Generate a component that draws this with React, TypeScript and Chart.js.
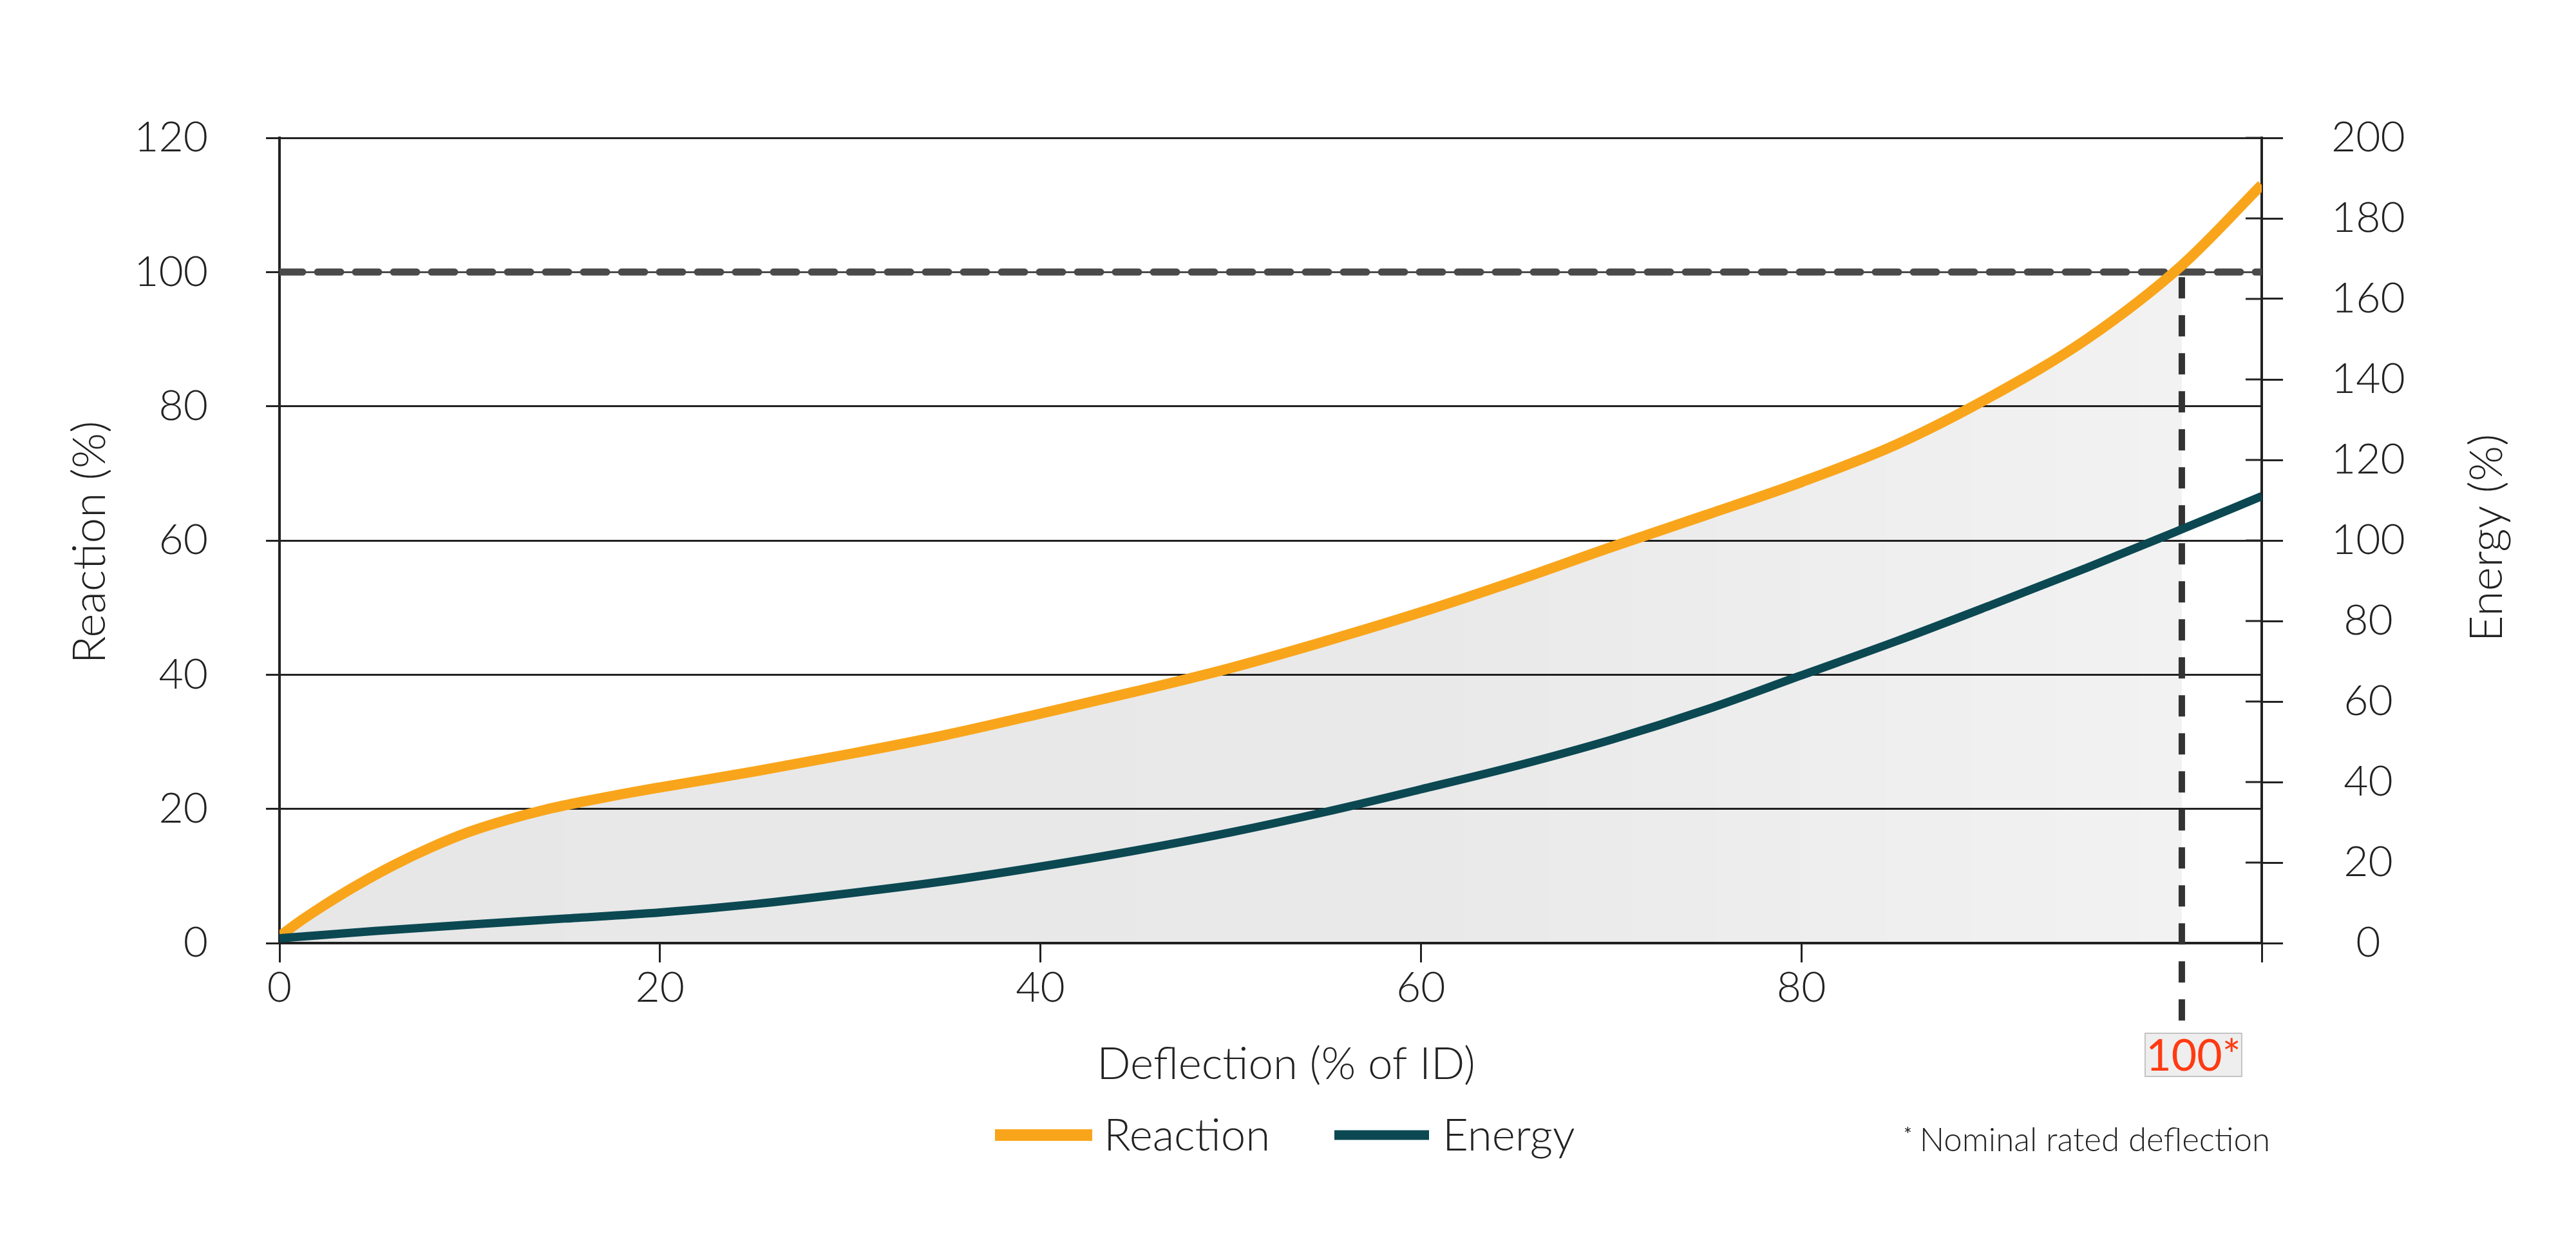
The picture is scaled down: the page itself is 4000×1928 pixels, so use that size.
import React, { useEffect, useRef } from 'react';
import { Chart, registerables } from 'chart.js';

Chart.register(...registerables);

// ---- data ----
const reactionDeflection = [0, 1, 2, 3, 4, 6, 8, 10, 12, 14, 16, 18, 20, 25, 30, 35, 40, 45, 50, 55, 60, 65, 70, 75, 80, 85, 90, 95, 100, 104.2];
const reactionValues = [1, 3.1, 5.0, 6.8, 8.5, 11.6, 14.3, 16.6, 18.4, 19.9, 21.1, 22.2, 23.2, 25.6, 28.2, 31, 34.2, 37.5, 41, 45, 49.3, 54, 59, 63.8, 68.7, 74.3, 81.5, 90, 101, 113];

const energyDeflection = [0, 5, 10, 15, 20, 25, 30, 35, 40, 45, 50, 55, 60, 65, 70, 75, 80, 85, 90, 95, 100, 104.2];
const energyValues = [1.2, 3, 4.6, 6.1, 7.6, 9.7, 12.4, 15.4, 19, 23, 27.5, 32.6, 38.2, 44, 50.5, 58, 66.5, 75, 84, 93.2, 102.8, 111];

const xTicks = [0, 20, 40, 60, 80];
const reactionTicks = [0, 20, 40, 60, 80, 100, 120];
const energyTicks = [0, 20, 40, 60, 80, 100, 120, 140, 160, 180, 200];

const xMax = 104.2;
const nominalDeflection = 100;
const nominalReaction = 100;
const nominalLabel = '100*';

const seriesNames = ['Reaction', 'Energy'];
const seriesColors = ['#F9A51B', '#0B4852'];
const xTitle = 'Deflection (% of ID)';
const yTitle = 'Reaction (%)';
const y2Title = 'Energy (%)';
const footnote = 'Nominal rated deflection';

const FONT = "Lato, 'Open Sans', sans-serif";
const INK = '#222222';

export default function App() {
  const ref = useRef<HTMLCanvasElement | null>(null);

  useEffect(() => {
    const canvas = ref.current;
    if (!canvas) return;

    const reactionPts = reactionDeflection.map((x, i) => ({ x, y: reactionValues[i] }));
    const fillPts = reactionPts.filter((p) => p.x <= nominalDeflection);
    const energyPts = energyDeflection.map((x, i) => ({ x, y: energyValues[i] }));
    const refPts = [
      { x: 0, y: nominalReaction },
      { x: xMax, y: nominalReaction },
    ];

    const decor = {
      id: 'decor',
      beforeDatasetDraw(chart: any, args: any) {
        if (args.index !== 3) return;
        const { ctx, scales } = chart;
        const x = scales.x.getPixelForValue(nominalDeflection);
        const yTop = scales.y.getPixelForValue(nominalReaction) + 8;
        const yBot = scales.y.getPixelForValue(0) + 128;
        ctx.save();
        ctx.strokeStyle = '#333333';
        ctx.lineWidth = 10;
        ctx.setLineDash([33, 26]);
        ctx.beginPath();
        ctx.moveTo(x, yTop);
        ctx.lineTo(x, yBot);
        ctx.stroke();
        ctx.restore();
      },
      afterDraw(chart: any) {
        const { ctx, scales, chartArea } = chart;
        ctx.save();
        // inner tick stubs of the right axis
        const ax = scales.y2.left;
        ctx.strokeStyle = INK;
        ctx.lineWidth = 3;
        energyTicks.forEach((v) => {
          const y = Math.round(scales.y2.getPixelForValue(v));
          ctx.beginPath();
          ctx.moveTo(ax - 25, y);
          ctx.lineTo(ax, y);
          ctx.stroke();
        });

        // nominal label box
        const nx = scales.x.getPixelForValue(nominalDeflection);
        const bTop = scales.y.getPixelForValue(0) + 140;
        const bw = 150;
        const bh = 67;
        const bx = nx - 57;
        ctx.fillStyle = '#eeeeee';
        ctx.fillRect(bx, bTop, bw, bh);
        ctx.strokeStyle = '#c4c4c4';
        ctx.lineWidth = 2;
        ctx.strokeRect(bx, bTop, bw, bh);
        ctx.fillStyle = '#FF3A12';
        ctx.font = `400 68px ${FONT}`;
        ctx.textAlign = 'center';
        ctx.textBaseline = 'middle';
        ctx.fillText(nominalLabel, bx + bw / 2, bTop + bh / 2 + 3);

        // axis titles
        ctx.fillStyle = INK;
        ctx.font = `300 71px ${FONT}`;
        const cy = (chartArea.top + chartArea.bottom) / 2;
        ctx.save();
        ctx.translate(140, cy + 3);
        ctx.rotate(-Math.PI / 2);
        ctx.fillText(yTitle, 0, 0);
        ctx.restore();
        ctx.save();
        ctx.translate(3862, cy - 4);
        ctx.rotate(-Math.PI / 2);
        ctx.fillText(y2Title, 0, 0);
        ctx.restore();
        ctx.font = `300 69px ${FONT}`;
        const cx = (chartArea.left + chartArea.right) / 2 + 24;
        ctx.fillText(xTitle, cx, 1653);

        // legend
        const legendY = 1762;
        const items = [
          { x0: 1545, x1: 1696, tx: 1714, w: 18 },
          { x0: 2072, x1: 2219, tx: 2240, w: 15 },
        ];
        items.forEach((it, i) => {
          ctx.strokeStyle = seriesColors[i];
          ctx.lineWidth = it.w;
          ctx.beginPath();
          ctx.moveTo(it.x0, legendY);
          ctx.lineTo(it.x1, legendY);
          ctx.stroke();
          ctx.fillStyle = INK;
          ctx.textAlign = 'left';
          ctx.textBaseline = 'middle';
          ctx.font = `300 69px ${FONT}`;
          ctx.fillText(seriesNames[i], it.tx, legendY + 2);
        });

        // footnote
        ctx.textAlign = 'right';
        ctx.textBaseline = 'alphabetic';
        ctx.font = `300 51px ${FONT}`;
        ctx.fillText(footnote, chartArea.right + 13, 1787);
        const fw = ctx.measureText(footnote).width;
        ctx.font = `400 30px ${FONT}`;
        ctx.fillText('*', chartArea.right + 13 - fw - 12, 1772);
        ctx.restore();
      },
    };

    const chart = new Chart(canvas, {
      type: 'line',
      data: {
        datasets: [
          {
            label: seriesNames[1],
            data: energyPts,
            yAxisID: 'y2',
            borderColor: seriesColors[1],
            borderWidth: 13,
            pointRadius: 0,
            cubicInterpolationMode: 'monotone',
            fill: false,
            order: 0,
          },
          {
            label: seriesNames[0],
            data: reactionPts,
            yAxisID: 'y',
            borderColor: seriesColors[0],
            borderWidth: 16,
            pointRadius: 0,
            cubicInterpolationMode: 'monotone',
            fill: false,
            order: 1,
          },
          {
            label: 'nominal-dash',
            data: refPts,
            yAxisID: 'y',
            borderColor: '#4a4a4a',
            borderWidth: 11,
            borderDash: [36, 23],
            borderCapStyle: 'round',
            pointRadius: 0,
            fill: false,
            order: 3,
          },
          {
            label: 'nominal-thin',
            data: refPts,
            yAxisID: 'y',
            borderColor: '#555555',
            borderWidth: 2.5,
            pointRadius: 0,
            fill: false,
            order: 4,
          },
          {
            label: 'area',
            data: fillPts,
            yAxisID: 'y',
            borderWidth: 0,
            borderColor: 'rgba(0,0,0,0)',
            pointRadius: 0,
            cubicInterpolationMode: 'monotone',
            fill: 'origin',
            backgroundColor: (c: any) => {
              const ch = c.chart;
              const area = ch.chartArea;
              if (!area) return 'rgba(0,0,0,0.08)';
              const xe = ch.scales.x.getPixelForValue(nominalDeflection);
              const g = ch.ctx.createLinearGradient(area.left, 0, xe, 0);
              g.addColorStop(0, 'rgba(0,0,0,0.095)');
              g.addColorStop(0.6, 'rgba(0,0,0,0.085)');
              g.addColorStop(1, 'rgba(0,0,0,0.05)');
              return g;
            },
            order: 10,
          },
        ],
      },
      options: {
        animation: false,
        responsive: false,
        devicePixelRatio: 1,
        events: [],
        layout: { padding: { top: 214, left: 0, right: 0, bottom: 0 } },
        plugins: {
          legend: { display: false },
          tooltip: { enabled: false },
          title: { display: false },
        },
        scales: {
          x: {
            type: 'linear',
            min: 0,
            max: xMax,
            afterBuildTicks: (s: any) => {
              s.ticks = [...xTicks, xMax].map((v) => ({ value: v }));
            },
            afterFit: (s: any) => {
              s.height = 464;
            },
            ticks: {
              autoSkip: false,
              maxRotation: 0,
              padding: 0,
              color: INK,
              font: { family: FONT, size: 66, weight: '300' as any },
              callback: (v: any) => (xTicks.includes(Number(v)) ? String(v) : ''),
            },
            grid: { drawOnChartArea: false, drawTicks: true, tickLength: 30, color: INK, lineWidth: 3 },
            border: { display: true, color: INK, width: 4 },
          },
          y: {
            type: 'linear',
            position: 'left',
            min: 0,
            max: 120,
            afterBuildTicks: (s: any) => {
              s.ticks = reactionTicks.map((v) => ({ value: v }));
            },
            afterFit: (s: any) => {
              s.width = 434;
            },
            ticks: {
              padding: 90,
              crossAlign: 'near',
              color: INK,
              font: { family: FONT, size: 66, weight: '300' as any },
            },
            grid: { drawTicks: true, tickLength: 21, color: INK, lineWidth: 3 },
            border: { display: true, color: INK, width: 4 },
          },
          y2: {
            type: 'linear',
            position: 'right',
            min: 0,
            max: 200,
            afterBuildTicks: (s: any) => {
              s.ticks = energyTicks.map((v) => ({ value: v }));
            },
            afterFit: (s: any) => {
              s.width = 488;
            },
            ticks: {
              padding: 75,
              crossAlign: 'center',
              color: INK,
              font: { family: FONT, size: 66, weight: '300' as any },
            },
            grid: { drawOnChartArea: false, drawTicks: true, tickLength: 33, color: INK, lineWidth: 3 },
            border: { display: true, color: INK, width: 4 },
          },
        },
      } as any,
      plugins: [decor],
    });

    return () => chart.destroy();
  }, []);

  return (
    <div style={{ position: 'fixed', left: 0, top: 0, width: 4000, height: 1928, background: '#ffffff' }}>
      <canvas ref={ref} width={4000} height={1928} style={{ width: 4000, height: 1928, display: 'block' }} />
    </div>
  );
}
